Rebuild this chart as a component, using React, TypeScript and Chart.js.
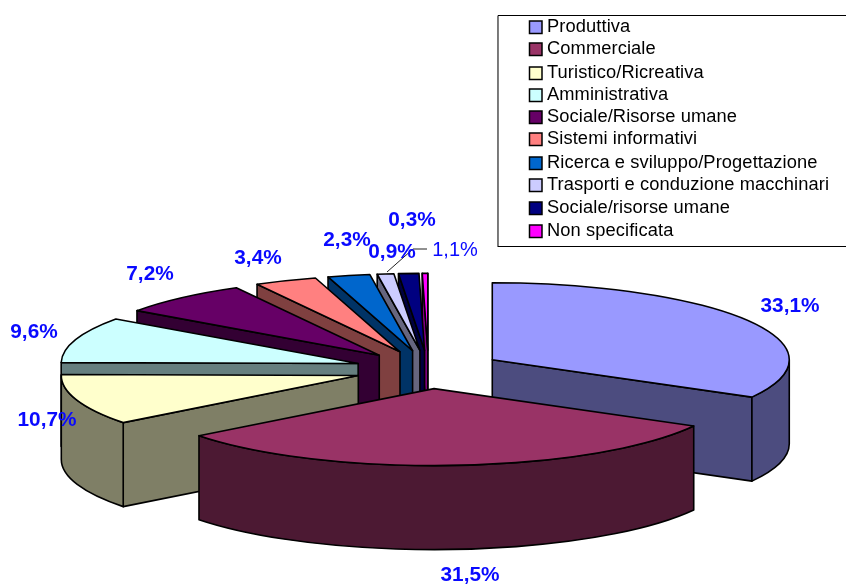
import React, { useEffect, useRef } from "react";
import { Chart, registerables } from "chart.js";

Chart.register(...registerables);

const categories = [
  "Produttiva",
  "Commerciale",
  "Turistico/Ricreativa",
  "Amministrativa",
  "Sociale/Risorse umane",
  "Sistemi informativi",
  "Ricerca e sviluppo/Progettazione",
  "Trasporti e conduzione macchinari",
  "Sociale/risorse umane",
  "Non specificata",
];
const shares = [33.1, 31.5, 10.7, 9.6, 7.2, 3.4, 2.3, 0.9, 1.1, 0.3];
const colors = [
  "#9999FF", "#993366", "#FFFFCC", "#CCFFFF", "#660066",
  "#FF8080", "#0066CC", "#CCCCFF", "#000080", "#FF00FF",
];

// label centres on the page, in slice order
const labelAnchors: [number, number][] = [
  [790, 306], [470, 575], [47, 420], [34, 332], [150, 274],
  [258, 258], [347, 240], [392, 252], [455, 250], [412, 220],
];
const legendRows = [26, 48, 72, 94, 116, 138, 162, 184, 207, 230];

const TILT = 77 / 297;
const EXPLODE = 74;
const DEPTH = 84;

function shade(hex: string): string {
  const n = parseInt(hex.slice(1), 16);
  const r = (n >> 16) >> 1;
  const g = ((n >> 8) & 255) >> 1;
  const b = (n & 255) >> 1;
  return `rgb(${r},${g},${b})`;
}

const pie3d = {
  id: "pie3d",
  beforeDatasetsDraw(chart: any) {
    const ctx: CanvasRenderingContext2D = chart.ctx;
    const arcs = chart.getDatasetMeta(0).data as any[];
    const slices = arcs.map((el, i) => {
      const mid = (el.startAngle + el.endAngle) / 2;
      return {
        i,
        a0: el.startAngle as number,
        a1: el.endAngle as number,
        cx: el.x + Math.cos(mid) * EXPLODE,
        cy: el.y + Math.sin(mid) * EXPLODE * TILT,
        rx: el.outerRadius as number,
        ry: el.outerRadius * TILT,
      };
    });
    slices.sort((p, q) => p.cy - q.cy);

    ctx.save();
    ctx.lineWidth = 1.6;
    ctx.lineJoin = "round";
    ctx.strokeStyle = "#000";
    for (const s of slices) {
      const top = colors[s.i];
      const dark = shade(top);
      const paint = (fill: string) => {
        ctx.fillStyle = fill;
        ctx.fill();
        ctx.stroke();
      };
      const radialWall = (a: number) => {
        const px = s.cx + Math.cos(a) * s.rx;
        const py = s.cy + Math.sin(a) * s.ry;
        ctx.beginPath();
        ctx.moveTo(s.cx, s.cy);
        ctx.lineTo(px, py);
        ctx.lineTo(px, py + DEPTH);
        ctx.lineTo(s.cx, s.cy + DEPTH);
        ctx.closePath();
        paint(dark);
      };
      if (-Math.cos(s.a0) > 0) radialWall(s.a0);
      if (Math.cos(s.a1) > 0) radialWall(s.a1);

      const w0 = Math.max(s.a0, 0);
      const w1 = Math.min(s.a1, Math.PI);
      if (w1 > w0) {
        ctx.beginPath();
        ctx.ellipse(s.cx, s.cy, s.rx, s.ry, 0, w0, w1);
        ctx.ellipse(s.cx, s.cy + DEPTH, s.rx, s.ry, 0, w1, w0, true);
        ctx.closePath();
        paint(dark);
      }

      ctx.beginPath();
      ctx.moveTo(s.cx, s.cy);
      ctx.ellipse(s.cx, s.cy, s.rx, s.ry, 0, s.a0, s.a1);
      ctx.closePath();
      paint(top);
    }
    ctx.restore();
    return false;
  },
  afterDraw(chart: any) {
    const ctx: CanvasRenderingContext2D = chart.ctx;
    ctx.save();

    // legend
    ctx.fillStyle = "#fff";
    ctx.fillRect(498, 16, 348, 231);
    ctx.strokeStyle = "#000";
    ctx.lineWidth = 1;
    ctx.beginPath();
    ctx.moveTo(846, 15.5);
    ctx.lineTo(498, 15.5);
    ctx.lineTo(498, 246.5);
    ctx.lineTo(846, 246.5);
    ctx.stroke();
    ctx.strokeStyle = "#777";
    ctx.beginPath();
    ctx.moveTo(497.5, 16);
    ctx.lineTo(497.5, 247);
    ctx.stroke();
    ctx.font = "18.3px 'Liberation Sans'";
    (ctx as any).letterSpacing = "0.1px";
    ctx.textAlign = "left";
    ctx.textBaseline = "middle";
    (chart.data.labels as string[]).forEach((label, i) => {
      const y = legendRows[i];
      ctx.fillStyle = colors[i];
      ctx.strokeStyle = "#000";
      ctx.lineWidth = 1.5;
      ctx.fillRect(529.5, y - 5, 12.5, 12.5);
      ctx.strokeRect(529.5, y - 5, 12.5, 12.5);
      ctx.fillStyle = "#000";
      ctx.fillText(label, 547, y + 1);
    });
    (ctx as any).letterSpacing = "0px";

    // leader line of the 1,1% label
    ctx.strokeStyle = "#222";
    ctx.lineWidth = 1;
    ctx.beginPath();
    ctx.moveTo(387, 272);
    ctx.lineTo(413, 249);
    ctx.lineTo(427, 249);
    ctx.stroke();

    // data labels
    ctx.textAlign = "center";
    ctx.textBaseline = "middle";
    ctx.fillStyle = "#0A0AFF";
    shares.forEach((v, i) => {
      const text = v.toFixed(1).replace(".", ",") + "%";
      ctx.font = i === 8 ? "20px 'Liberation Sans'" : "bold 20.8px 'Liberation Sans'";
      ctx.fillText(text, labelAnchors[i][0], labelAnchors[i][1]);
    });
    ctx.restore();
  },
};

export default function App() {
  const ref = useRef<HTMLCanvasElement>(null);
  useEffect(() => {
    const chart = new Chart(ref.current!, {
      type: "pie",
      data: {
        labels: categories,
        datasets: [{ data: shares, backgroundColor: colors, borderColor: "#000", borderWidth: 0 }],
      },
      options: {
        animation: false,
        responsive: false,
        radius: 297,
        layout: { padding: { left: 10, top: 155 } },
        plugins: { legend: { display: false }, tooltip: { enabled: false } },
      } as any,
      plugins: [pie3d],
    });
    return () => chart.destroy();
  }, []);
  return (
    <div style={{ position: "absolute", left: 0, top: 0, width: 847, height: 584, background: "#fff" }}>
      <canvas ref={ref} width={847} height={584} style={{ display: "block" }} />
    </div>
  );
}
